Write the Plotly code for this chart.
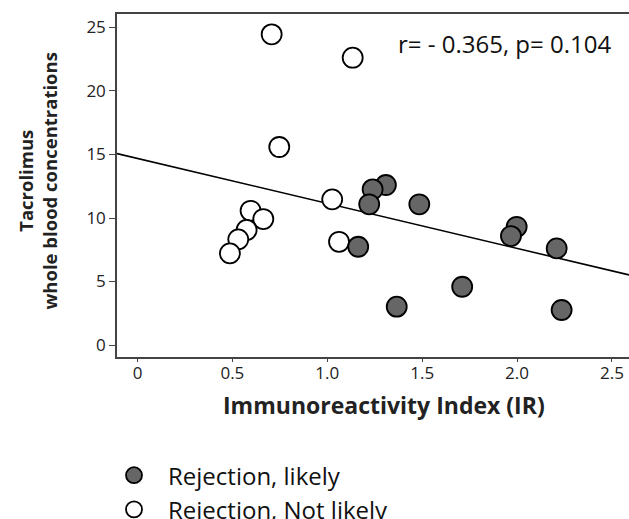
import plotly.graph_objects as go

# Data
likely_x = [1.309, 1.239, 1.221, 1.485, 1.163, 1.366, 1.711, 1.998, 1.968, 2.209, 2.235]
likely_y = [12.6, 12.26, 11.08, 11.08, 7.74, 3.02, 4.59, 9.31, 8.58, 7.61, 2.76]

notlikely_x = [0.707, 0.747, 0.596, 0.663, 0.575, 0.531, 0.487, 1.134, 1.026, 1.062]
notlikely_y = [24.46, 15.59, 10.57, 9.92, 9.06, 8.32, 7.22, 22.62, 11.47, 8.13]

fit_intercept = 14.69
fit_slope = -3.54

x_range = [-0.108, 2.59]
y_range = [-0.94, 26.06]
x_ticks = [0, 0.5, 1.0, 1.5, 2.0, 2.5]
x_ticklabels = ["0", "0.5", "1.0", "1.5", "2.0", "2.5"]
y_ticks = [0, 5, 10, 15, 20, 25]

stat_text = "r= - 0.365, p= 0.104"
y_title = "<b>Tacrolimus<br>whole blood concentrations</b>"
x_title = "<b>Immunoreactivity Index (IR)</b>"

FONT = "Open Sans"

fig = go.Figure()

fit_x = list(x_range)
fit_y = [fit_intercept + fit_slope * v for v in fit_x]
fig.add_trace(go.Scatter(x=fit_x, y=fit_y, mode="lines",
                         line=dict(color="black", width=1.6),
                         showlegend=False, hoverinfo="skip"))

fig.add_trace(go.Scatter(x=notlikely_x, y=notlikely_y, mode="markers",
                         name="Rejection, Not likely", legendgroup="b", legendrank=2,
                         marker=dict(size=20, color="white",
                                     line=dict(color="black", width=1.8))))

fig.add_trace(go.Scatter(x=likely_x, y=likely_y, mode="markers",
                         name="Rejection, likely", legendgroup="a", legendrank=1,
                         marker=dict(size=20, color="#666666",
                                     line=dict(color="black", width=1.8))))

fig.add_annotation(x=1, xref="paper", xanchor="right", xshift=-16,
                   y=1, yref="paper", yanchor="middle", yshift=-29,
                   text=stat_text, showarrow=False,
                   font=dict(family=FONT, size=24, color="#111"))

fig.add_annotation(x=0, xref="paper", xanchor="center", xshift=-80,
                   y=0.5, yref="paper", yanchor="middle", yshift=4,
                   text=y_title, textangle=-90, showarrow=False,
                   font=dict(family=FONT, size=18.5, color="#222"))

fig.add_annotation(x=0.521, xref="paper", xanchor="center",
                   y=0, yref="paper", yanchor="middle", yshift=-48,
                   text=x_title, showarrow=False,
                   font=dict(family=FONT, size=23, color="#222"))

fig.update_layout(
    width=629, height=519,
    margin=dict(l=117, r=0, t=14, b=162, autoexpand=False),
    paper_bgcolor="white", plot_bgcolor="white",
    font=dict(family=FONT, color="#222"),
    showlegend=True,
    legend=dict(x=0.159, xref="container", xanchor="left",
                y=0.127, yref="container", yanchor="top",
                traceorder="grouped", tracegroupgap=0, itemwidth=58,
                font=dict(family=FONT, size=24, color="#111"),
                itemsizing="trace", bgcolor="rgba(0,0,0,0)"),
    xaxis=dict(range=x_range, tickvals=x_ticks, ticktext=x_ticklabels,
               showgrid=False, zeroline=False,
               showline=True, linecolor="#444", linewidth=1.5, mirror=True,
               ticks="outside", ticklen=3, tickcolor="#444",
               ticklabelstandoff=-3,
               tickfont=dict(family=FONT, size=17, color="#222")),
    yaxis=dict(range=y_range, tickvals=y_ticks,
               showgrid=False, zeroline=False,
               showline=True, linecolor="#444", linewidth=1.5, mirror=False,
               ticks="outside", ticklen=6, tickcolor="#444",
               tickfont=dict(family=FONT, size=17, color="#222")),
)

fig.write_html("out.html",
               config={"displayModeBar": False},
               post_script="document.body.style.margin='0';document.body.style.overflow='hidden';")
